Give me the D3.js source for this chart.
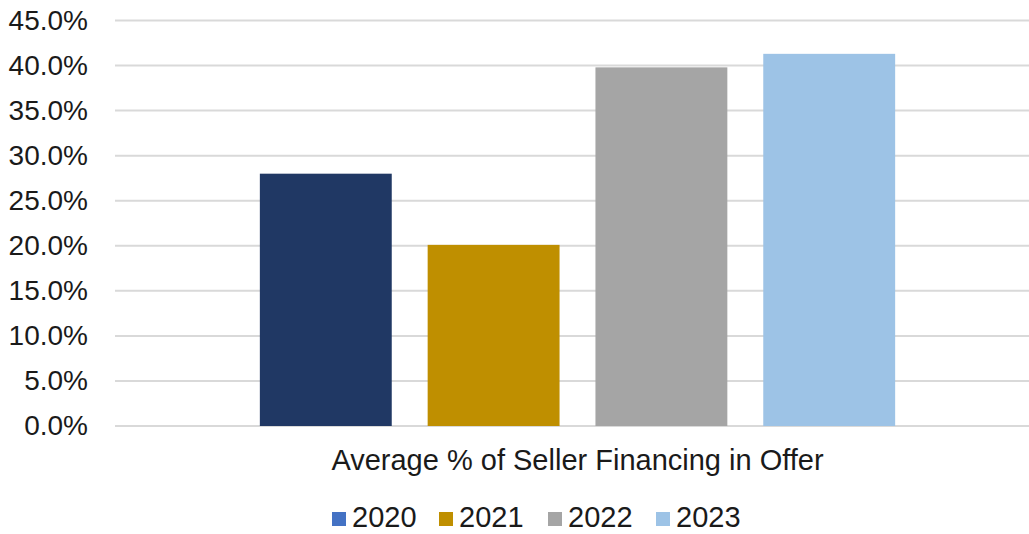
<!DOCTYPE html>
<html>
<head>
<meta charset="utf-8">
<script src="https://cdn.jsdelivr.net/npm/d3@7"></script>
<style>
  body { margin: 0; background: #fff; }
  svg { display: block; font-family: "Liberation Sans", Arial, sans-serif; }
</style>
</head>
<body>
<div id="chart"></div>
<script>
// data
var categories = ["Average % of Seller Financing in Offer"];
var years = ["2020", "2021", "2022", "2023"];
var values = [0.280, 0.201, 0.398, 0.413];
var yTicks = [0, 0.05, 0.10, 0.15, 0.20, 0.25, 0.30, 0.35, 0.40, 0.45];
var barColors = ["#203864", "#BF8F00", "#A5A5A5", "#9DC3E6"];
var legendColors = ["#4472C4", "#BF8F00", "#A5A5A5", "#9DC3E6"];

var width = 1029, height = 534;
var plot = { left: 115, right: 1040, top: 20.5, bottom: 426 };

var svg = d3.select("#chart").append("svg")
    .attr("width", width)
    .attr("height", height);

var y = d3.scaleLinear()
    .domain([0, 0.45])
    .range([plot.bottom, plot.top]);

// outer scale: one category, group of bars sits in the middle
var x0 = d3.scaleBand()
    .domain(categories)
    .range([plot.left, plot.right])
    .paddingOuter(0.228);

var x1 = d3.scaleBand()
    .domain(years)
    .range([0, x0.bandwidth()])
    .paddingInner(0.214)
    .paddingOuter(0);

// gridlines
svg.append("g").selectAll("line")
    .data(yTicks)
    .enter().append("line")
    .attr("x1", plot.left)
    .attr("x2", plot.right)
    .attr("y1", function (d) { return y(d); })
    .attr("y2", function (d) { return y(d); })
    .attr("stroke", "#D9D9D9")
    .attr("stroke-width", 2);

// y axis labels
var yAxis = svg.append("g")
    .attr("transform", "translate(" + (plot.left - 27) + ",0)")
    .call(d3.axisLeft(y).tickValues(yTicks).tickFormat(d3.format(".1%")).tickSize(0).tickPadding(0));
yAxis.select(".domain").remove();
yAxis.selectAll("text")
    .attr("fill", "#1a1a1a")
    .style("font-size", "28px")
    .style("font-family", "Liberation Sans, Arial, sans-serif");

// bars
var group = svg.append("g")
    .attr("transform", "translate(" + x0(categories[0]) + ",0)");

group.selectAll("rect")
    .data(values)
    .enter().append("rect")
    .attr("x", function (d, i) { return x1(years[i]); })
    .attr("width", x1.bandwidth())
    .attr("y", function (d) { return y(d); })
    .attr("height", function (d) { return y(0) - y(d); })
    .attr("fill", function (d, i) { return barColors[i]; });

// category label
svg.append("text")
    .attr("x", x0(categories[0]) + x0.bandwidth() / 2)
    .attr("y", 470)
    .attr("text-anchor", "middle")
    .attr("fill", "#1a1a1a")
    .style("font-size", "29px")
    .text(categories[0]);

// legend
var legendX = [332, 439, 548, 656];
var legend = svg.append("g").selectAll("g")
    .data(years)
    .enter().append("g")
    .attr("transform", function (d, i) { return "translate(" + legendX[i] + ",512)"; });

legend.append("rect")
    .attr("width", 14)
    .attr("height", 14)
    .attr("fill", function (d, i) { return legendColors[i]; });

legend.append("text")
    .attr("x", 20)
    .attr("y", 15)
    .attr("fill", "#1a1a1a")
    .style("font-size", "29px")
    .text(function (d) { return d; });
</script>
</body>
</html>
